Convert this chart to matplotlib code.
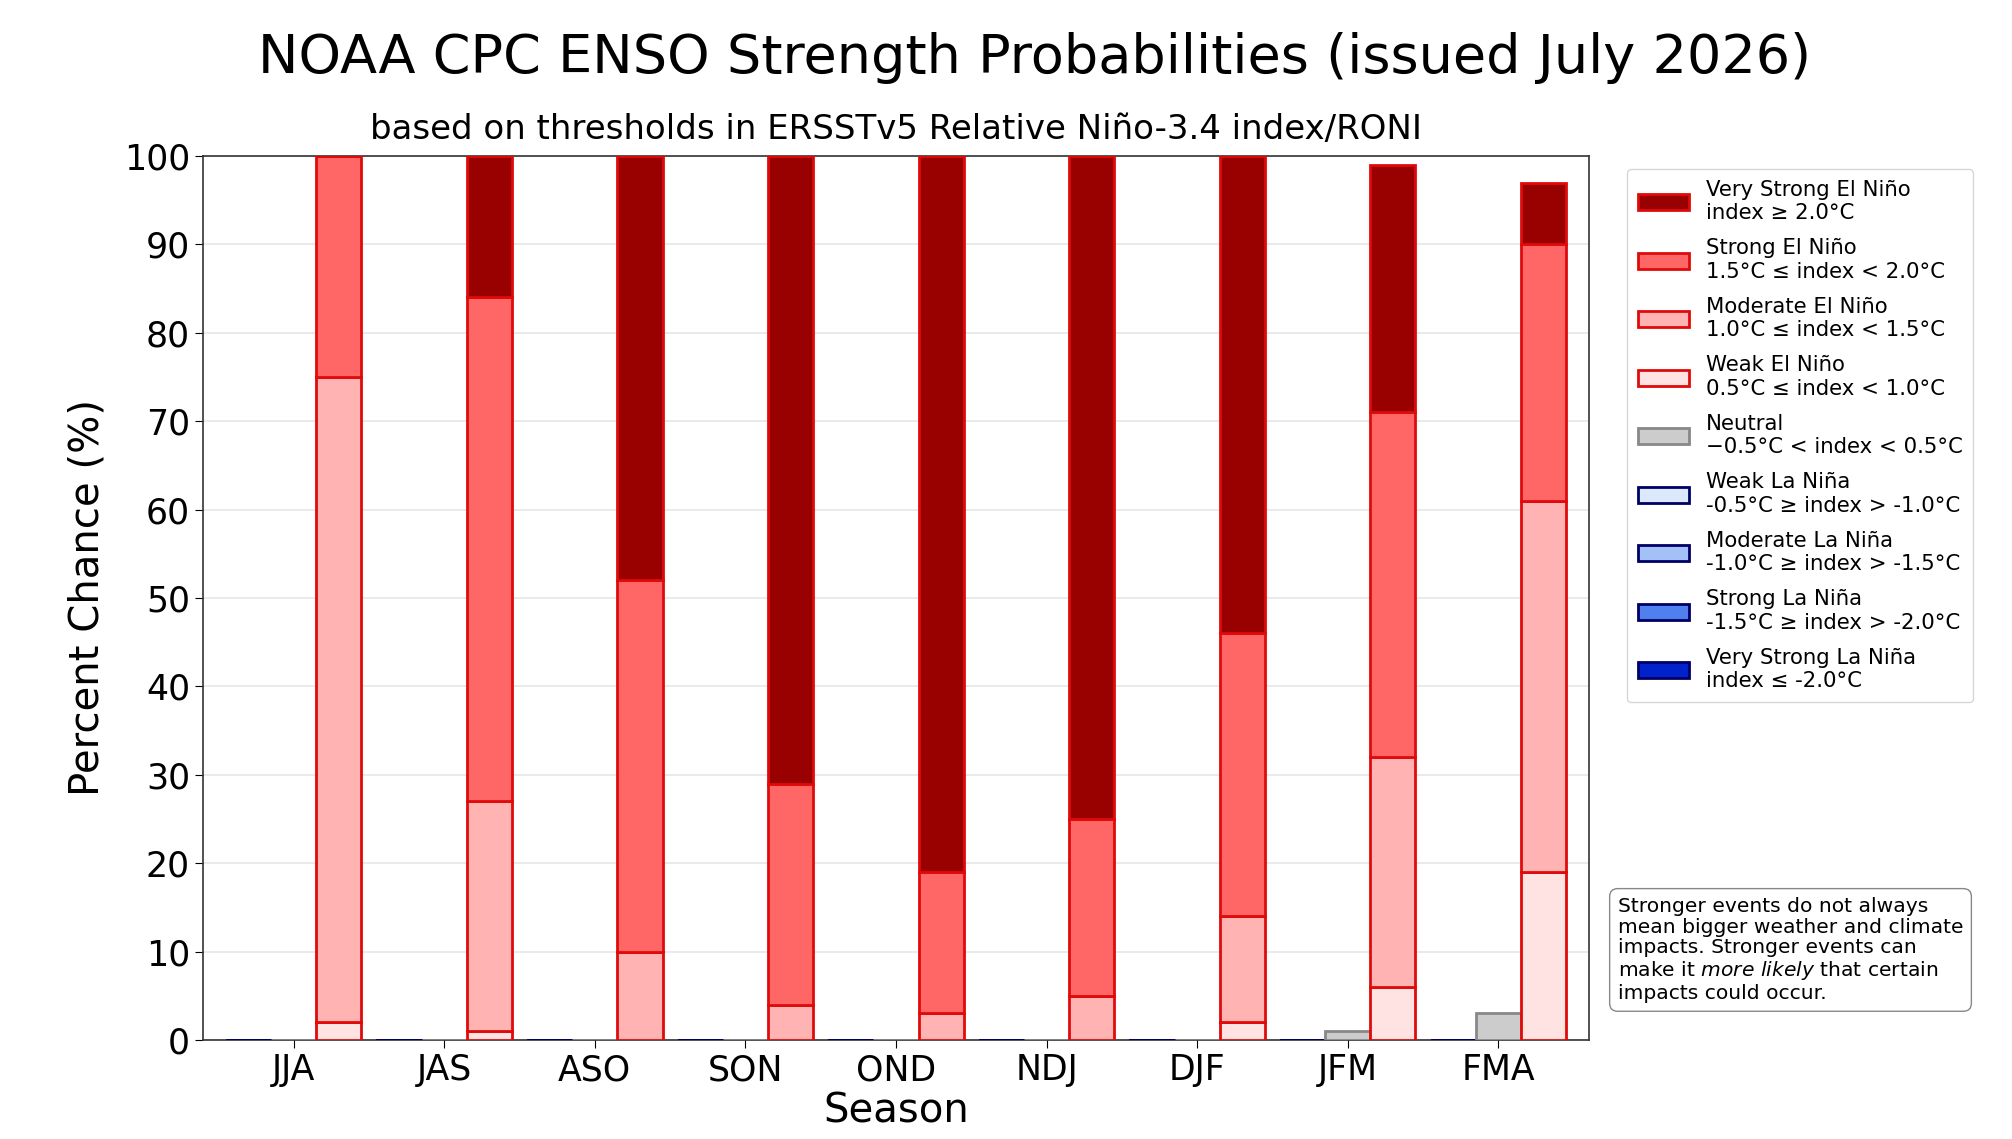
import matplotlib
matplotlib.use("Agg")
import matplotlib.pyplot as plt
import numpy as np

seasons = ["JJA", "JAS", "ASO", "SON", "OND", "NDJ", "DJF", "JFM", "FMA"]

# El Nino categories (percent)
weak_nino = [2, 1, 0, 0, 0, 0, 2, 6, 19]
mod_nino = [73, 26, 10, 4, 3, 5, 12, 26, 42]
strong_nino = [25, 57, 42, 25, 16, 20, 32, 39, 29]
vstrong_nino = [0, 16, 48, 71, 81, 75, 54, 28, 7]

neutral = [0, 0, 0, 0, 0, 0, 0, 1, 3]

# La Nina categories (percent)
weak_nina = [0, 0, 0, 0, 0, 0, 0, 0, 0]
mod_nina = [0, 0, 0, 0, 0, 0, 0, 0, 0]
strong_nina = [0, 0, 0, 0, 0, 0, 0, 0, 0]
vstrong_nina = [0, 0, 0, 0, 0, 0, 0, 0, 0]

nino_labels = [
    "Very Strong El Niño\nindex ≥ 2.0°C",
    "Strong El Niño\n1.5°C ≤ index < 2.0°C",
    "Moderate El Niño\n1.0°C ≤ index < 1.5°C",
    "Weak El Niño\n0.5°C ≤ index < 1.0°C",
]
neutral_label = "Neutral\n\u22120.5°C < index < 0.5°C"
nina_labels = [
    "Weak La Niña\n-0.5°C ≥ index > -1.0°C",
    "Moderate La Niña\n-1.0°C ≥ index > -1.5°C",
    "Strong La Niña\n-1.5°C ≥ index > -2.0°C",
    "Very Strong La Niña\nindex ≤ -2.0°C",
]

NINO_COLORS = ["#990000", "#ff6666", "#ffb3b3", "#ffe3e3"]
NINA_COLORS = ["#dce8fb", "#a3c1f7", "#4f80ee", "#0022cc"]


def main() -> None:
    fig = plt.figure(figsize=(20.12, 11.39), dpi=100)
    ax = fig.add_axes([0.101, 0.087, 0.6886, 0.776])

    x = np.arange(len(seasons))
    w = 0.3

    # La Nina stack (left)
    nina_series = [weak_nina, mod_nina, strong_nina, vstrong_nina]
    bottom = np.zeros(len(seasons))
    nina_handles = []
    for vals, col, lab in zip(nina_series, NINA_COLORS, nina_labels):
        h = ax.bar(x - w, vals, w, bottom=bottom, color=col, edgecolor="#000066",
                   linewidth=2, label=lab, zorder=3)
        nina_handles.append(h)
        bottom += np.array(vals, dtype=float)

    # Neutral (middle)
    neu = ax.bar(x, neutral, w, color="#cccccc", edgecolor="#888888",
                 linewidth=2, label=neutral_label, zorder=3)

    # El Nino stack (right), bottom to top: weak, moderate, strong, very strong
    nino_series = [weak_nino, mod_nino, strong_nino, vstrong_nino]
    nino_cols = NINO_COLORS[::-1]
    nino_labs = nino_labels[::-1]
    bottom = np.zeros(len(seasons))
    nino_handles = []
    for vals, col, lab in zip(nino_series, nino_cols, nino_labs):
        h = ax.bar(x + w, vals, w, bottom=bottom, color=col, edgecolor="#e00a0a",
                   linewidth=2, label=lab, zorder=3)
        nino_handles.append(h)
        bottom += np.array(vals, dtype=float)

    ax.set_xlim(-0.6, 8.6)
    ax.set_ylim(0, 100)
    ax.set_yticks(np.arange(0, 101, 10))
    ax.set_xticks(x)
    ax.set_xticklabels(seasons)
    ax.tick_params(axis="both", labelsize=25, length=6)
    ax.grid(True, axis="y", color="#e6e6e6", linewidth=1.2, zorder=0)
    ax.set_axisbelow(True)
    for s in ax.spines.values():
        s.set_color("#333333")
        s.set_linewidth(1.2)

    ax.set_xlabel("Season", fontsize=29, labelpad=3)
    ax.set_ylabel("Percent Chance (%)", fontsize=29, labelpad=12)

    fig.text(0.514, 0.949, "NOAA CPC ENSO Strength Probabilities (issued July 2026)",
             ha="center", va="center", fontsize=39)
    ax.set_title("based on thresholds in ERSSTv5 Relative Niño-3.4 index/RONI",
                 fontsize=24.5, pad=12)

    handles = nino_handles[::-1] + [neu] + nina_handles
    labels = nino_labels + [neutral_label] + nina_labels
    leg = ax.legend(handles, labels, loc="upper left", bbox_to_anchor=(1.02, 0.997),
                    fontsize=15.3, frameon=True, labelspacing=0.72, handlelength=2.4,
                    handleheight=0.8, handletextpad=0.8, borderpad=0.5)
    leg.get_frame().set_edgecolor("#cccccc")

    note = ("Stronger events do not always\n"
            "mean bigger weather and climate\n"
            "impacts. Stronger events can\n"
            r"make it $\it{more\ likely}$ that certain" "\n"
            "impacts could occur.")
    ax.text(1.021, 0.162, note, transform=ax.transAxes, ha="left", va="top",
            fontsize=14.6, linespacing=1.12,
            bbox=dict(boxstyle="round,pad=0.4", facecolor="white", edgecolor="#888888"))

    fig.savefig("out.png", dpi=100)


if __name__ == "__main__":
    main()
